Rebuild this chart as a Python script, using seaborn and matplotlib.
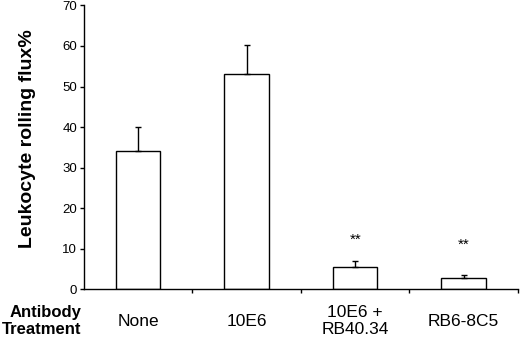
import numpy as np
import pandas as pd
import seaborn as sns
import matplotlib.pyplot as plt

treatments = ['None', '10E6', '10E6 +\nRB40.34', 'RB6-8C5']
rolling_flux = [34.2, 53.0, 5.5, 2.7]
sem = [5.8, 7.2, 1.6, 0.9]
stars = ['', '', '**', '**']
star_y = [0, 0, 12.1, 11.1]

sns.set_style('ticks')
plt.rcParams['font.family'] = ['Liberation Sans', 'DejaVu Sans']
plt.rcParams['text.color'] = 'black'
plt.rcParams['axes.labelcolor'] = 'black'
plt.rcParams['xtick.color'] = 'black'
plt.rcParams['ytick.color'] = 'black'
plt.rcParams['axes.edgecolor'] = 'black'

df = pd.DataFrame({'treatment': treatments, 'flux': rolling_flux})

fig = plt.figure(figsize=(5.2, 3.39), dpi=100)
ax = fig.add_axes([0.1615, 0.1466, 0.8345, 0.8374])

sns.barplot(data=df, x='treatment', y='flux', color='white', edgecolor='black',
            linewidth=1.0, width=0.41, errorbar=None, ax=ax)
ax.errorbar(np.arange(len(treatments)), rolling_flux,
            yerr=[np.zeros(len(sem)), sem], fmt='none', ecolor='black',
            elinewidth=1.0, capsize=2.5, capthick=1.0)

for i, (s, yy) in enumerate(zip(stars, star_y)):
    if s:
        ax.text(i, yy, s, ha='center', va='center', fontsize=11)

ax.set_xlim(-0.5, 3.5)
ax.set_ylim(0, 70)
ax.set_yticks(range(0, 71, 10))
ax.tick_params(axis='y', labelsize=9.5, length=3, width=1, pad=2)
ax.set_xticks(range(len(treatments)))
ax.set_xticklabels(treatments, fontsize=12.5, linespacing=1.15)
ax.set_xticks([0.5, 1.5, 2.5, 3.5], minor=True)
ax.tick_params(axis='x', which='major', length=0, pad=23)
ax.tick_params(axis='x', which='minor', length=3, width=1)
for lbl in ax.get_xticklabels():
    lbl.set_verticalalignment('center')

ax.set_xlabel('')
ax.set_ylabel('Leukocyte rolling flux%', fontsize=14, fontweight='bold')
ax.yaxis.set_label_coords(-0.11, 0.53)
for sp in ['top', 'right']:
    ax.spines[sp].set_visible(False)
ax.spines['left'].set_linewidth(1.0)
ax.spines['bottom'].set_linewidth(1.0)

fig.text(81 / 520, 1 - 321 / 339, 'Antibody\nTreatment', ha='right', va='center',
         fontsize=12, fontweight='bold', linespacing=1.22)

fig.savefig('out.png', dpi=100)
